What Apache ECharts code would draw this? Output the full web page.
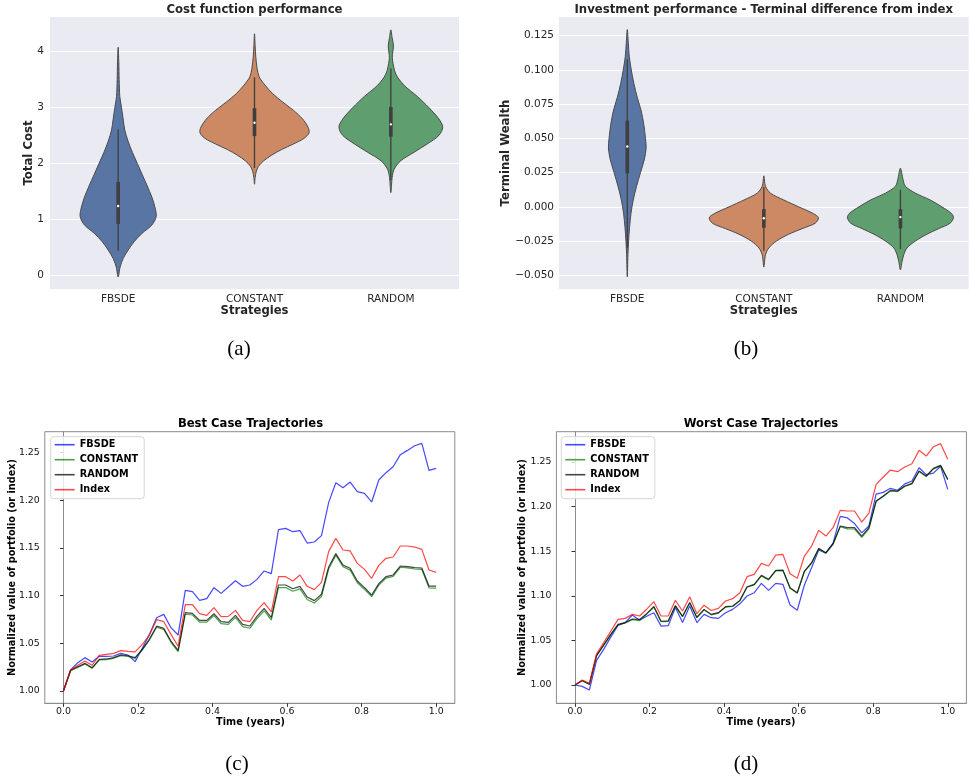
<!DOCTYPE html>
<html><head><meta charset="utf-8">
<script src="https://cdn.jsdelivr.net/npm/echarts@6/dist/echarts.min.js"></script>
<style>html,body{margin:0;padding:0;background:#fff}#c{width:969px;height:776px}</style>
</head><body><div id="c"></div>
<script>
// ---------- violin panels ----------
const strategies = ['FBSDE', 'CONSTANT', 'RANDOM'];

// (a) total cost: density outline (value, relative half-width)
const costFbsdeY = [4.08, 3.8, 3.5, 3.2, 3.0, 2.8, 2.6, 2.4, 2.2, 2.0, 1.8, 1.6, 1.4, 1.2, 1.05, 0.9, 0.75, 0.6, 0.45, 0.3, 0.15, -0.03];
const costFbsdeW = [0, .012, .018, .03, .061, .091, .121, .182, .261, .352, .442, .533, .618, .679, .697, .618, .436, .291, .182, .091, .036, 0];
const costConstY = [4.32, 4.1, 3.9, 3.7, 3.55, 3.4, 3.25, 3.1, 2.95, 2.8, 2.65, 2.55, 2.45, 2.35, 2.25, 2.15, 2.05, 1.95, 1.85, 1.75, 1.63];
const costConstW = [0, .012, .024, .048, .085, .194, .333, .515, .715, .879, .982, 1, .909, .715, .497, .315, .17, .073, .03, .012, 0];
const costRandY = [4.39, 4.25, 4.1, 3.95, 3.85, 3.6, 3.4, 3.2, 3.0, 2.8, 2.65, 2.5, 2.35, 2.2, 2.05, 1.9, 1.75, 1.6, 1.48];
const costRandW = [0, .024, .048, .03, .03, .091, .242, .485, .697, .879, .952, .879, .667, .424, .182, .061, .024, .012, 0];
const costWhiskerLo = [0.44, 1.92, 1.70];
const costQ1 = [0.92, 2.49, 2.48];
const costMedian = [1.24, 2.73, 2.70];
const costQ3 = [1.67, 2.99, 3.01];
const costWhiskerHi = [2.61, 3.54, 3.70];

// (b) terminal wealth difference
const wealthFbsdeY = [0.1294, 0.12, 0.11, 0.10, 0.09, 0.08, 0.07, 0.06, 0.05, 0.043, 0.035, 0.025, 0.015, 0.005, -0.005, -0.015, -0.025, -0.035, -0.051];
const wealthFbsdeW = [0, .018, .036, .073, .121, .182, .255, .303, .333, .345, .315, .242, .17, .109, .067, .042, .024, .012, 0];
const wealthConstY = [0.0226, 0.015, 0.01, 0.005, 0.0, -0.005, -0.008, -0.012, -0.016, -0.02, -0.025, -0.03, -0.035, -0.044];
const wealthConstW = [0, .03, .121, .364, .636, .909, 1, .939, .697, .455, .23, .091, .03, 0];
const wealthRandY = [0.0282, 0.02, 0.015, 0.01, 0.005, 0.0, -0.005, -0.008, -0.012, -0.016, -0.02, -0.025, -0.03, -0.035, -0.04, -0.046];
const wealthRandW = [0, .048, .091, .273, .545, .758, .939, .97, .909, .697, .485, .273, .121, .061, .03, 0];
const wealthWhiskerLo = [-0.030, -0.032, -0.031];
const wealthQ1 = [0.0245, -0.0153, -0.0158];
const wealthMedian = [0.044, -0.0083, -0.0075];
const wealthQ3 = [0.0629, -0.0017, -0.0017];
const wealthWhiskerHi = [0.1078, 0.0145, 0.0124];

// ---------- trajectory panels (weekly, 53 points) ----------
const bestFbsde = [1.000,1.022,1.0297,1.035,1.0304,1.0364,1.0364,1.0367,1.0395,1.0378,1.0308,1.0448,1.0594,1.0769,1.0804,1.0664,1.0587,1.1056,1.1042,1.0951,1.0969,1.1084,1.1024,1.1091,1.1157,1.1098,1.1112,1.1171,1.1259,1.1231,1.1692,1.1706,1.1671,1.1682,1.1552,1.1563,1.1630,1.1976,1.2185,1.2133,1.2192,1.2091,1.2073,1.1983,1.2213,1.2290,1.2353,1.2479,1.2524,1.2573,1.2598,1.2315,1.2336];
const bestConstant = [1.000,1.0212,1.0248,1.0283,1.0238,1.0325,1.0329,1.0343,1.0371,1.0362,1.0342,1.0428,1.0535,1.0669,1.0645,1.0511,1.0413,1.0805,1.0797,1.0723,1.0722,1.0792,1.0707,1.0699,1.0772,1.0676,1.0658,1.0759,1.0842,1.0744,1.1085,1.1085,1.1046,1.1071,1.0960,1.0923,1.0991,1.1280,1.1425,1.1305,1.1268,1.1136,1.1067,1.0990,1.1111,1.1184,1.1203,1.1298,1.1291,1.1280,1.1275,1.1082,1.1080];
const bestRandom = [1.000,1.0217,1.0255,1.029,1.0245,1.0332,1.0336,1.035,1.0378,1.037,1.035,1.0437,1.0545,1.068,1.0657,1.0524,1.0427,1.0822,1.0815,1.0741,1.0741,1.0811,1.0727,1.072,1.0794,1.0699,1.0682,1.0783,1.0867,1.0769,1.1112,1.1112,1.1073,1.1098,1.0986,1.0948,1.1015,1.1301,1.1441,1.1322,1.1287,1.1154,1.1084,1.1007,1.1126,1.1199,1.1217,1.1311,1.1304,1.1294,1.1290,1.1101,1.1101];
const bestIndex = [1.000,1.022,1.027,1.0315,1.027,1.0374,1.0385,1.0395,1.0423,1.0416,1.041,1.049,1.0587,1.0748,1.0727,1.0594,1.047,1.0906,1.0906,1.0811,1.0794,1.0874,1.078,1.0783,1.0846,1.0741,1.0727,1.0846,1.0927,1.0829,1.1199,1.1199,1.1154,1.1217,1.1098,1.1063,1.1140,1.1462,1.1601,1.1479,1.1469,1.1339,1.1276,1.1182,1.1318,1.1392,1.1406,1.1521,1.1521,1.1510,1.1486,1.1269,1.1245];

const worstFbsde = [1.000,0.9985,0.9944,1.0277,1.040,1.054,1.0669,1.0699,1.0785,1.0725,1.077,1.081,1.066,1.0665,1.087,1.070,1.0886,1.070,1.0792,1.0755,1.0747,1.0811,1.0848,1.0910,1.0998,1.1035,1.1140,1.1061,1.1140,1.1129,1.0897,1.0838,1.1121,1.1315,1.1513,1.1478,1.1590,1.1890,1.1873,1.1810,1.1705,1.1783,1.2140,1.2160,1.2205,1.2184,1.2255,1.2287,1.2436,1.2358,1.2376,1.2452,1.2194];
const worstConstant = [1.000,1.0047,1.0006,1.0326,1.0445,1.0565,1.0675,1.0695,1.0733,1.0722,1.0795,1.0874,1.0709,1.0713,1.0884,1.0765,1.0919,1.0755,1.0843,1.0787,1.0806,1.0873,1.0881,1.0944,1.1096,1.1123,1.1223,1.1179,1.1279,1.1283,1.1085,1.1029,1.1272,1.1365,1.1526,1.1478,1.1577,1.1775,1.1750,1.1749,1.1655,1.1752,1.2057,1.2113,1.2176,1.2169,1.2225,1.2255,1.2393,1.2337,1.2423,1.2457,1.2300];
const worstRandom = [1.000,1.005,1.001,1.033,1.045,1.057,1.068,1.070,1.074,1.0735,1.080,1.088,1.0715,1.072,1.089,1.077,1.0925,1.076,1.0848,1.0792,1.0811,1.0878,1.0886,1.0949,1.1102,1.1129,1.1229,1.1185,1.1285,1.1289,1.1091,1.1035,1.1278,1.1371,1.1532,1.1484,1.1584,1.1783,1.1764,1.1764,1.1670,1.1764,1.2063,1.2119,1.2182,1.2175,1.2231,1.2261,1.2399,1.2343,1.2429,1.2463,1.2306];
const worstIndex = [1.000,1.0056,1.0019,1.0351,1.0475,1.0605,1.0736,1.0747,1.0792,1.0774,1.0850,1.0934,1.0774,1.0774,1.0949,1.0830,1.0990,1.0800,1.0895,1.0835,1.0860,1.0942,1.0968,1.1035,1.1215,1.1241,1.1364,1.1334,1.1457,1.1465,1.1248,1.1196,1.1446,1.1558,1.1734,1.1670,1.1764,1.1958,1.1951,1.1951,1.1827,1.1928,1.2250,1.2332,1.2410,1.2392,1.2444,1.2481,1.2631,1.2567,1.2672,1.2706,1.2530];

const weeksPerYear = 52;
const timeYears = bestFbsde.map((_, k) => k / weeksPerYear);

// tick values
const timeTicks = [0, 0.2, 0.4, 0.6, 0.8, 1.0];
const valueTicks = [1.00, 1.05, 1.10, 1.15, 1.20, 1.25];

const seriesNames = ['FBSDE', 'CONSTANT', 'RANDOM', 'Index'];
const lineColors = ['rgba(0,0,255,0.72)', 'rgba(0,128,0,0.72)', 'rgba(0,0,0,0.72)', 'rgba(255,0,0,0.72)'];
const violinColors = ['#5975A4', '#CC8963', '#5F9E6E'];

const FONT = 'DejaVu Sans';

function violinRenderer(shapesY, shapesW) {
  return function (params, api) {
    const i = api.value(0);
    const ys = shapesY[i], ws = shapesW[i];
    const half = api.size([1, 0])[0] * 0.4;
    const right = [], left = [];
    for (let k = 0; k < ys.length; k++) {
      const c = api.coord([i, ys[k]]);
      right.push([c[0] + ws[k] * half, c[1]]);
      if (k > 0 && k < ys.length - 1) left.push([c[0] - ws[k] * half, c[1]]);
    }
    const pts = right.concat(left.reverse());
    const lo = api.coord([i, api.value(1)]);
    const q1 = api.coord([i, api.value(2)]);
    const md = api.coord([i, api.value(3)]);
    const q3 = api.coord([i, api.value(4)]);
    const hi = api.coord([i, api.value(5)]);
    return {
      type: 'group',
      children: [
        { type: 'polygon', shape: { points: pts, smooth: 0.3 }, style: { fill: violinColors[i], stroke: '#4a4a4a', lineWidth: 1 } },
        { type: 'line', shape: { x1: lo[0], y1: lo[1], x2: hi[0], y2: hi[1] }, style: { stroke: '#3f3f3f', lineWidth: 1.3 } },
        { type: 'line', shape: { x1: q1[0], y1: q1[1], x2: q3[0], y2: q3[1] }, style: { stroke: '#3f3f3f', lineWidth: 3.6 } },
        { type: 'circle', shape: { cx: md[0], cy: md[1], r: 1.2 }, style: { fill: '#ffffff' } }
      ]
    };
  };
}

function violinData(lo, q1, md, q3, hi) {
  return strategies.map((s, i) => [i, lo[i], q1[i], md[i], q3[i], hi[i]]);
}

function pairs(arr) { return timeYears.map((t, k) => [t, arr[k]]); }

const minus = v => (v < 0 ? '\u2212' : '');

function catX(gi) {
  return {
    gridIndex: gi, type: 'category', data: strategies,
    axisLine: { show: false }, axisTick: { show: false }, splitLine: { show: false },
    axisLabel: { fontFamily: FONT, fontSize: 10.5, color: '#262626', margin: 5 }
  };
}
function sbY(gi, min, max, step, fmt, margin) {
  return {
    gridIndex: gi, type: 'value', min: min, max: max, minInterval: step, maxInterval: step,
    axisLine: { show: false }, axisTick: { show: false },
    axisLabel: { fontFamily: FONT, fontSize: 10.5, color: '#262626', margin: margin, showMinLabel: false, showMaxLabel: false, formatter: fmt },
    splitLine: { show: true, showMinLine: false, showMaxLine: false, lineStyle: { color: '#ffffff', width: 1 } }
  };
}
function mplX(gi) {
  return {
    gridIndex: gi, type: 'value', min: -0.05, max: 1.05, minInterval: 0.2, maxInterval: 0.2,
    axisLine: { show: true, lineStyle: { color: '#8c8c8c' } },
    axisTick: { show: true, inside: false, length: 3.5, customValues: timeTicks, lineStyle: { color: '#333' } },
    axisLabel: { fontFamily: FONT, fontSize: 9.4, color: '#111', margin: 4, showMinLabel: false, showMaxLabel: false, formatter: v => v.toFixed(1) },
    splitLine: { show: false }
  };
}
function mplY(gi, min, max) {
  return {
    gridIndex: gi, type: 'value', min: min, max: max, minInterval: 0.05, maxInterval: 0.05,
    axisLine: { show: true, lineStyle: { color: '#8c8c8c' } },
    axisTick: { show: true, inside: false, length: 3.5, customValues: valueTicks, lineStyle: { color: '#333' } },
    axisLabel: { fontFamily: FONT, fontSize: 9.4, color: '#111', margin: 5, showMinLabel: false, showMaxLabel: false, formatter: v => v.toFixed(2) },
    splitLine: { show: false }
  };
}
function legendAt(left) {
  return {
    data: seriesNames, orient: 'vertical', left: left, top: 436.7,
    icon: 'rect', itemWidth: 20, itemHeight: 1.6, itemGap: 3, padding: [2, 6, 3, 4],
    backgroundColor: 'rgba(255,255,255,0.8)', borderColor: '#d4d4d4', borderWidth: 1, borderRadius: 3,
    selectedMode: false,
    textStyle: { fontFamily: FONT, fontSize: 9.7, fontWeight: 'bold', color: '#000', lineHeight: 12 }
  };
}
function txt(text, x, y, size, opts) {
  opts = opts || {};
  return {
    type: 'text', x: x, y: y, rotation: opts.rot || 0, silent: true,
    style: {
      text: text, fontFamily: opts.family || FONT, fontSize: size, fontWeight: opts.weight || 'bold',
      fill: opts.color || '#262626', align: 'center', verticalAlign: 'middle'
    }
  };
}

const lineSeries = [];
[[bestFbsde, bestConstant, bestRandom, bestIndex, 2], [worstFbsde, worstConstant, worstRandom, worstIndex, 3]].forEach(set => {
  for (let s = 0; s < 4; s++) {
    lineSeries.push({
      name: seriesNames[s], type: 'line', xAxisIndex: set[4], yAxisIndex: set[4],
      data: pairs(set[s]), symbol: 'none', showSymbol: false,
      lineStyle: { color: lineColors[s], width: 1.2 }, itemStyle: { color: lineColors[s] },
      emphasis: { disabled: true }, z: 2 + s
    });
  }
});

const option = {
  animation: false,
  backgroundColor: '#ffffff',
  grid: [
    { left: 50, top: 17, width: 409, height: 272, show: true, backgroundColor: '#EAEAF2', borderWidth: 0 },
    { left: 559, top: 17, width: 409.7, height: 272, show: true, backgroundColor: '#EAEAF2', borderWidth: 0 },
    { left: 44.8, top: 431.7, width: 410, height: 271.6, show: true, backgroundColor: 'rgba(0,0,0,0)', borderColor: '#8c8c8c', borderWidth: 1 },
    { left: 556.4, top: 431.7, width: 410, height: 271.6, show: true, backgroundColor: 'rgba(0,0,0,0)', borderColor: '#8c8c8c', borderWidth: 1 }
  ],
  xAxis: [catX(0), catX(1), mplX(2), mplX(3)],
  yAxis: [
    sbY(0, -0.244, 4.62, 1, v => String(Math.round(v)), 6),
    sbY(1, -0.0600, 0.1386, 0.025, v => minus(v) + Math.abs(v).toFixed(3), 5),
    mplY(2, 0.9871, 1.272),
    mplY(3, 0.9795, 1.284)
  ],
  legend: [legendAt(50.7), legendAt(561.3)],
  series: [
    { name: 'costViolin', type: 'custom', xAxisIndex: 0, yAxisIndex: 0, renderItem: violinRenderer([costFbsdeY, costConstY, costRandY], [costFbsdeW, costConstW, costRandW]),
      data: violinData(costWhiskerLo, costQ1, costMedian, costQ3, costWhiskerHi), encode: { x: 0, y: [1, 2, 3, 4, 5] }, z: 3 },
    { name: 'wealthViolin', type: 'custom', xAxisIndex: 1, yAxisIndex: 1, renderItem: violinRenderer([wealthFbsdeY, wealthConstY, wealthRandY], [wealthFbsdeW, wealthConstW, wealthRandW]),
      data: violinData(wealthWhiskerLo, wealthQ1, wealthMedian, wealthQ3, wealthWhiskerHi), encode: { x: 0, y: [1, 2, 3, 4, 5] }, z: 3 }
  ].concat(lineSeries),
  graphic: [
    txt('Cost function performance', 254.5, 10.3, 11.7),
    txt('Investment performance - Terminal difference from index', 763.8, 10.3, 11.7),
    txt('Strategies', 254.5, 311, 11.6),
    txt('Strategies', 763.8, 311, 11.6),
    txt('Total Cost', 29, 153, 11.7, { rot: Math.PI / 2 }),
    txt('Terminal Wealth', 505.7, 153, 11.7, { rot: Math.PI / 2 }),
    txt('Best Case Trajectories', 250.5, 424.3, 11.6, { color: '#000' }),
    txt('Worst Case Trajectories', 761, 424.3, 11.6, { color: '#000' }),
    txt('Time (years)', 250.5, 722.3, 9.7, { color: '#000' }),
    txt('Time (years)', 761, 722.3, 9.7, { color: '#000' }),
    txt('Normalized value of portfolio (or index)', 12, 567.5, 9.7, { rot: Math.PI / 2, color: '#000' }),
    txt('Normalized value of portfolio (or index)', 522.7, 567.5, 9.7, { rot: Math.PI / 2, color: '#000' }),
    txt('(a)', 239, 349, 21, { family: 'Liberation Serif', weight: 'normal', color: '#000' }),
    txt('(b)', 746, 349, 21, { family: 'Liberation Serif', weight: 'normal', color: '#000' }),
    txt('(c)', 237, 764, 21, { family: 'Liberation Serif', weight: 'normal', color: '#000' }),
    txt('(d)', 746, 764, 21, { family: 'Liberation Serif', weight: 'normal', color: '#000' })
  ]
};

const chart = echarts.init(document.getElementById('c'), null, { renderer: 'canvas' });
chart.setOption(option);
</script></body></html>
